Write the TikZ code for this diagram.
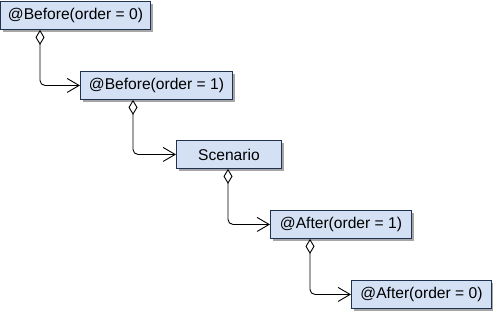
\documentclass[tikz,border=0pt]{standalone}
\usepackage{fontspec}
\setmainfont{Liberation Sans}
\usetikzlibrary{arrows.meta,shadows}
\definecolor{boxfill}{HTML}{D4E1F5}
\definecolor{boxline}{HTML}{1F3350}
\begin{document}
\begin{tikzpicture}[x=1pt,y=-1pt,
  cls/.style={draw=boxline, fill=boxfill, line width=0.9pt, anchor=north west,
    minimum height=28pt, inner sep=0pt, font=\fontsize{15.6}{18}\selectfont,
    drop shadow={shadow xshift=3pt, shadow yshift=-3pt, fill=black!35, opacity=1}},
  conn/.style={draw=black, line width=0.9pt, rounded corners=5pt,
    {Diamond[open,length=15pt,width=9pt,line width=0.9pt]}-{Straight Barb[length=12pt,width=14pt,line width=0.9pt]}}]
\useasboundingbox (0,0) rectangle (493,314);
\node[cls, minimum width=150pt] (b1) at (0,1) {@Before(order = 0)};
\node[cls, minimum width=152pt] (b2) at (80,71) {@Before(order = 1)};
\node[cls, minimum width=105pt] (b3) at (176,140) {Scenario};
\node[cls, minimum width=141pt] (b4) at (270,210) {@After(order = 1)};
\node[cls, minimum width=140pt] (b5) at (351,280) {@After(order = 0)};
\draw[conn] ([xshift=40pt]b1.south west) |- (b2.west);
\draw[conn] ([xshift=53pt]b2.south west) |- (b3.west);
\draw[conn] ([xshift=52pt]b3.south west) |- (b4.west);
\draw[conn] ([xshift=40pt]b4.south west) |- (b5.west);
\end{tikzpicture}
\end{document}
